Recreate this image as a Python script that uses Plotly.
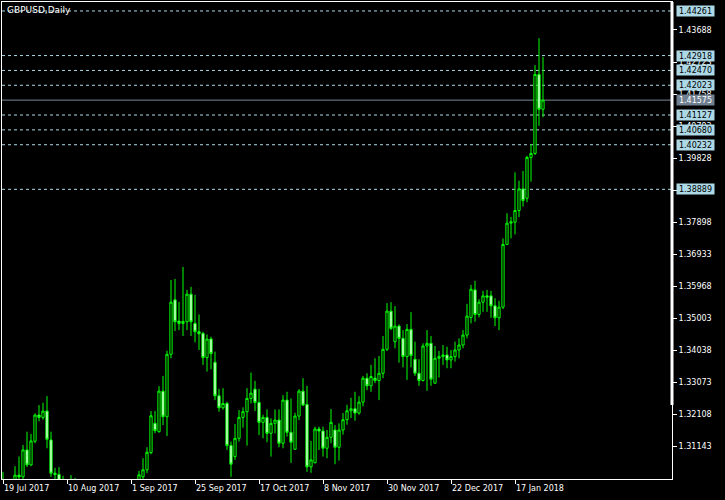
import plotly.graph_objects as go

# ---- data (GBPUSD daily, 19 Jul 2017 .. 26 Jan 2018) ----
open_ = [1.2980, 1.2995, 1.2960, 1.3000, 1.3028, 1.3023, 1.3104, 1.3059, 1.3130, 1.3209,
         1.3202, 1.3221, 1.3134, 1.3034, 1.3030, 1.2995, 1.2990, 1.2995, 1.3005, 1.2960,
         1.2880, 1.2870, 1.2880, 1.2875, 1.2900, 1.2840, 1.2800, 1.2810, 1.2880, 1.2930,
         1.2940, 1.2920, 1.2935, 1.2970, 1.2950, 1.3023, 1.3044, 1.3096, 1.3184, 1.3159,
         1.3281, 1.3204, 1.3392, 1.3556, 1.3492, 1.3485, 1.3490, 1.3573, 1.3485, 1.3460,
         1.3455, 1.3382, 1.3438, 1.3368, 1.3267, 1.3231, 1.3244, 1.3117, 1.3084, 1.3139,
         1.3202, 1.3219, 1.3259, 1.3287, 1.3247, 1.3187, 1.3202, 1.3154, 1.3184, 1.3194,
         1.3124, 1.3254, 1.3157, 1.3106, 1.3206, 1.3281, 1.3241, 1.3053, 1.3065, 1.3167,
         1.3161, 1.3109, 1.3142, 1.3164, 1.3112, 1.3164, 1.3195, 1.3222, 1.3228, 1.3215,
         1.3248, 1.3320, 1.3297, 1.3320, 1.3313, 1.3335, 1.3407, 1.3522, 1.3430, 1.3477,
         1.3440, 1.3385, 1.3467, 1.3377, 1.3335, 1.3313, 1.3417, 1.3425, 1.3305, 1.3380,
         1.3385, 1.3390, 1.3375, 1.3385, 1.3405, 1.3420, 1.3450, 1.3503, 1.3586, 1.3512,
         1.3549, 1.3568, 1.3568, 1.3538, 1.3502, 1.3534, 1.3723, 1.3787, 1.3790, 1.3825,
         1.3890, 1.3862, 1.3985, 1.3997, 1.4235, 1.4130]
high_ = [1.3038, 1.3010, 1.3012, 1.3055, 1.3084, 1.3119, 1.3159, 1.3152, 1.3214, 1.3239,
         1.3246, 1.3266, 1.3159, 1.3050, 1.3052, 1.3026, 1.3008, 1.3028, 1.3020, 1.2970,
         1.2905, 1.2920, 1.2905, 1.2915, 1.2915, 1.2855, 1.2840, 1.2900, 1.2945, 1.2980,
         1.2960, 1.2950, 1.3005, 1.2985, 1.3041, 1.3079, 1.3112, 1.3221, 1.3221, 1.3296,
         1.3327, 1.3403, 1.3616, 1.3619, 1.3550, 1.3655, 1.3586, 1.3595, 1.3571, 1.3512,
         1.3460, 1.3452, 1.3445, 1.3400, 1.3288, 1.3290, 1.3249, 1.3129, 1.3182, 1.3224,
         1.3232, 1.3290, 1.3337, 1.3312, 1.3288, 1.3210, 1.3226, 1.3199, 1.3226, 1.3226,
         1.3269, 1.3279, 1.3259, 1.3216, 1.3287, 1.3320, 1.3297, 1.3131, 1.3174, 1.3174,
         1.3174, 1.3164, 1.3227, 1.3179, 1.3184, 1.3215, 1.3240, 1.3261, 1.3279, 1.3266,
         1.3327, 1.3335, 1.3360, 1.3380, 1.3387, 1.3447, 1.3546, 1.3549, 1.3537, 1.3482,
         1.3465, 1.3483, 1.3519, 1.3430, 1.3377, 1.3425, 1.3465, 1.3447, 1.3417, 1.3402,
         1.3420, 1.3415, 1.3405, 1.3430, 1.3440, 1.3465, 1.3544, 1.3601, 1.3613, 1.3558,
         1.3583, 1.3586, 1.3583, 1.3561, 1.3553, 1.3741, 1.3817, 1.3806, 1.3940, 1.3915,
         1.3944, 1.3990, 1.4025, 1.4263, 1.4344, 1.4288]
low_ = [1.2960, 1.2950, 1.2940, 1.2985, 1.3010, 1.3015, 1.3052, 1.3055, 1.3124, 1.3190,
        1.3195, 1.3109, 1.3023, 1.3000, 1.2980, 1.2950, 1.2960, 1.2970, 1.2950, 1.2850,
        1.2840, 1.2850, 1.2840, 1.2850, 1.2830, 1.2775, 1.2780, 1.2790, 1.2870, 1.2870,
        1.2890, 1.2880, 1.2880, 1.2930, 1.2935, 1.3015, 1.3034, 1.3091, 1.3154, 1.3156,
        1.3179, 1.3146, 1.3380, 1.3462, 1.3465, 1.3447, 1.3465, 1.3447, 1.3428, 1.3405,
        1.3360, 1.3340, 1.3347, 1.3254, 1.3219, 1.3225, 1.3104, 1.3023, 1.3074, 1.3129,
        1.3171, 1.3117, 1.3244, 1.3221, 1.3149, 1.3139, 1.3127, 1.3084, 1.3154, 1.3112,
        1.3109, 1.3144, 1.3065, 1.3104, 1.3194, 1.3236, 1.3038, 1.3035, 1.3064, 1.3104,
        1.3084, 1.3079, 1.3124, 1.3061, 1.3072, 1.3150, 1.3180, 1.3200, 1.3192, 1.3210,
        1.3235, 1.3284, 1.3279, 1.3305, 1.3254, 1.3320, 1.3402, 1.3465, 1.3410, 1.3367,
        1.3353, 1.3315, 1.3353, 1.3327, 1.3297, 1.3310, 1.3282, 1.3297, 1.3303, 1.3322,
        1.3360, 1.3350, 1.3350, 1.3370, 1.3380, 1.3410, 1.3440, 1.3485, 1.3490, 1.3503,
        1.3520, 1.3520, 1.3502, 1.3477, 1.3465, 1.3528, 1.3721, 1.3741, 1.3753, 1.3805,
        1.3837, 1.3850, 1.3912, 1.3992, 1.4080, 1.4106]
close_ = [1.2995, 1.2960, 1.3000, 1.3028, 1.3023, 1.3104, 1.3059, 1.3131, 1.3209, 1.3202,
          1.3221, 1.3136, 1.3034, 1.3030, 1.2995, 1.2990, 1.2995, 1.3005, 1.2960, 1.2880,
          1.2870, 1.2880, 1.2875, 1.2900, 1.2840, 1.2800, 1.2810, 1.2880, 1.2930, 1.2940,
          1.2920, 1.2935, 1.2970, 1.2950, 1.3029, 1.3044, 1.3097, 1.3207, 1.3162, 1.3281,
          1.3204, 1.3392, 1.3549, 1.3490, 1.3485, 1.3491, 1.3573, 1.3490, 1.3460, 1.3454,
          1.3382, 1.3438, 1.3394, 1.3267, 1.3231, 1.3244, 1.3117, 1.3061, 1.3139, 1.3202,
          1.3219, 1.3259, 1.3275, 1.3247, 1.3187, 1.3202, 1.3154, 1.3184, 1.3194, 1.3124,
          1.3254, 1.3157, 1.3127, 1.3206, 1.3281, 1.3239, 1.3053, 1.3074, 1.3167, 1.3161,
          1.3109, 1.3142, 1.3187, 1.3112, 1.3164, 1.3195, 1.3222, 1.3228, 1.3215, 1.3248,
          1.3320, 1.3297, 1.3325, 1.3313, 1.3335, 1.3407, 1.3522, 1.3470, 1.3477, 1.3440,
          1.3385, 1.3467, 1.3388, 1.3335, 1.3313, 1.3417, 1.3425, 1.3317, 1.3380, 1.3385,
          1.3390, 1.3375, 1.3385, 1.3405, 1.3420, 1.3450, 1.3507, 1.3588, 1.3512, 1.3549,
          1.3568, 1.3564, 1.3538, 1.3502, 1.3534, 1.3723, 1.3787, 1.3791, 1.3825, 1.3890,
          1.3855, 1.3985, 1.3997, 1.4235, 1.4130, 1.41575]

date_label_pos = [0, 16, 32, 48, 64, 80, 96, 112, 128]
date_labels = ["19 Jul 2017", "10 Aug 2017", "1 Sep 2017", "25 Sep 2017", "17 Oct 2017",
               "8 Nov 2017", "30 Nov 2017", "22 Dec 2017", "17 Jan 2018"]

price_ticks = [1.31143, 1.32108, 1.33073, 1.34038, 1.35003, 1.35968, 1.36933, 1.37898,
               1.38863, 1.39828, 1.40793, 1.41758, 1.42723, 1.43688]
price_tick_labels = ["1.31143", "1.32108", "1.33073", "1.34038", "1.35003", "1.35968",
                     "1.36933", "1.37898", "1.38863", "1.39828", "1.40793", "1.41758",
                     "1.42723", "1.43688"]

level_lines = [1.44261, 1.42918, 1.42470, 1.42023, 1.41127, 1.40680, 1.40232, 1.38889]
level_labels = ["1.44261", "1.42918", "1.42470", "1.42023", "1.41127", "1.40680",
                "1.40232", "1.38889"]
bid_price = 1.41575
bid_label = "1.41575"

title_text = "GBPUSD,Daily"

# ---- figure ----
x = list(range(len(open_)))
LIME = "#00FF00"
FONT = "DejaVu Sans"

fig = go.Figure(go.Candlestick(
    x=x, open=open_, high=high_, low=low_, close=close_,
    increasing=dict(line=dict(color=LIME, width=1), fillcolor="black"),
    decreasing=dict(line=dict(color=LIME, width=1), fillcolor="white"),
    whiskerwidth=0, showlegend=False, hoverinfo="skip"))

shapes = []
for lv in level_lines:
    shapes.append(dict(type="line", xref="paper", x0=0, x1=1, yref="y", y0=lv, y1=lv,
                       line=dict(color="#ADD8E6", width=1, dash="3px,3px"), layer="below"))
shapes.append(dict(type="line", xref="paper", x0=0, x1=1, yref="y", y0=bid_price, y1=bid_price,
                   line=dict(color="#778899", width=1), layer="below"))
# thick segment of the price scale line
shapes.append(dict(type="line", xref="paper", x0=1, x1=1, yref="paper", y0=0.155, y1=1,
                   line=dict(color="white", width=3)))

annotations = []
for lv, lab in zip(level_lines, level_labels):
    annotations.append(dict(xref="paper", x=1, xanchor="left", xshift=4, yref="y", y=lv,
                            yanchor="middle", text=lab, showarrow=False,
                            font=dict(family=FONT, size=8, color="black"),
                            bgcolor="#ADD8E6", width=37, height=10, borderpad=0))
annotations.append(dict(xref="paper", x=1, xanchor="left", xshift=4, yref="y", y=bid_price,
                        yanchor="middle", text=bid_label, showarrow=False,
                        font=dict(family=FONT, size=8, color="white"),
                        bgcolor="#708090", width=37, height=10, borderpad=0))
for pos, lab in zip(date_label_pos, date_labels):
    annotations.append(dict(xref="x", x=pos, xanchor="left", xshift=-1, yref="paper", y=0,
                            yanchor="middle", yshift=-9, text=lab, showarrow=False,
                            font=dict(family=FONT, size=8, color="white")))
annotations.append(dict(xref="paper", x=0, xanchor="left", xshift=3, yref="paper", y=1,
                        yanchor="middle", yshift=-8, text=title_text, showarrow=False,
                        font=dict(family=FONT, size=9, color="white")))

fig.update_layout(
    width=725, height=500,
    margin=dict(l=2, r=53, t=2, b=21, pad=0),
    paper_bgcolor="black", plot_bgcolor="black",
    boxgap=0.2,
    shapes=shapes, annotations=annotations,
    xaxis=dict(range=[-0.25, 167.25], rangeslider=dict(visible=False), showgrid=False,
               zeroline=False, showline=True, linecolor="white", linewidth=1, mirror=True,
               tickmode="array", tickvals=date_label_pos, ticks="outside", ticklen=4,
               tickcolor="white", showticklabels=False, fixedrange=True),
    yaxis=dict(range=[1.30164, 1.44531], side="right", showgrid=False, zeroline=False,
               showline=True, linecolor="white", linewidth=1, mirror=True,
               tickmode="array", tickvals=price_ticks, ticktext=price_tick_labels,
               ticks="outside", ticklen=4, tickcolor="white",
               tickfont=dict(family=FONT, size=8, color="white"), fixedrange=True),
    font=dict(family=FONT, color="white"),
)

fig.write_html("out.html", config={"displayModeBar": False},
               post_script="document.body.style.margin='0px';document.body.style.background='black';")
